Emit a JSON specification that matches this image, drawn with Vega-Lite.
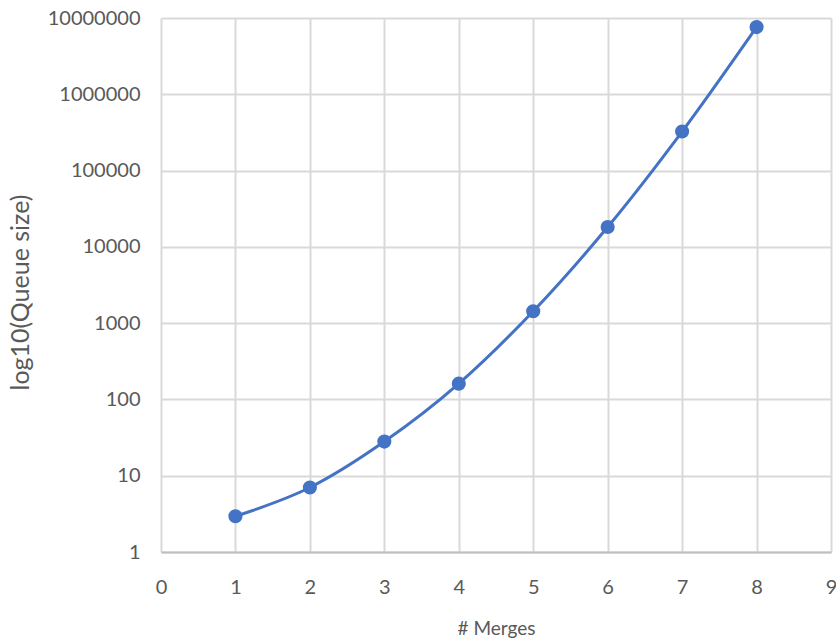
{
  "$schema": "https://vega.github.io/schema/vega-lite/v6.json",
  "width": 670,
  "height": 534,
  "autosize": {"type": "none"},
  "padding": {"left": 161, "top": 18, "right": 5, "bottom": 91},
  "background": "white",
  "data": {"values": [
    {"merges": 1, "size": 2.94},
    {"merges": 2, "size": 7},
    {"merges": 3, "size": 28},
    {"merges": 4, "size": 161},
    {"merges": 5, "size": 1430},
    {"merges": 6, "size": 18200},
    {"merges": 7, "size": 325000},
    {"merges": 8, "size": 7600000}
  ]},
  "config": {
    "view": {"stroke": null},
    "font": "Lato",
    "axis": {
      "labelFont": "Lato",
      "titleFont": "Lato",
      "labelFontSize": 20,
      "labelColor": "#595959",
      "titleColor": "#595959",
      "titleFontWeight": "normal",
      "gridColor": "#d9d9d9",
      "gridWidth": 2,
      "domainColor": "#bfbfbf",
      "domainWidth": 2,
      "ticks": false
    }
  },
  "encoding": {
    "x": {
      "field": "merges", "type": "quantitative",
      "scale": {"domain": [0, 9], "nice": false},
      "axis": {"title": "# Merges", "titleFontSize": 19, "values": [0,1,2,3,4,5,6,7,8,9], "labelBaseline": "middle", "labelPadding": 35, "titleBaseline": "middle", "titleY": 76, "labelFlush": false, "domain": true}
    },
    "y": {
      "field": "size", "type": "quantitative",
      "scale": {"type": "log", "domain": [1, 10000000], "nice": false},
      "axis": {"title": "log10(Queue size)", "titleFontSize": 25, "values": [1,10,100,1000,10000,100000,1000000,10000000], "format": "d", "labelPadding": 21, "titleAngle": 270, "titleBaseline": "middle", "titleAlign": "center", "titleX": -141, "titleY": 274, "labelFlush": false, "domain": false}
    }
  },
  "layer": [
    {"mark": {"type": "line", "color": "#4472C4", "strokeWidth": 3, "interpolate": "monotone"}},
    {"mark": {"type": "point", "filled": true, "color": "#4472C4", "size": 200, "opacity": 1}}
  ]
}
